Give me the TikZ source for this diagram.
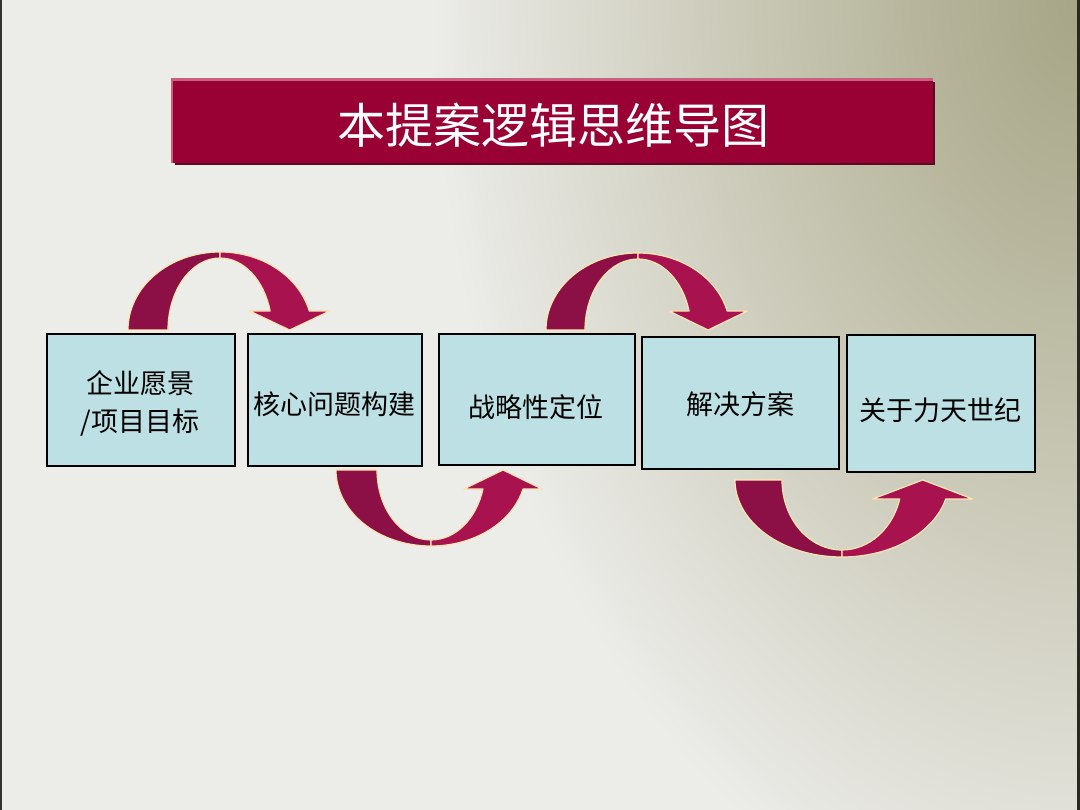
\documentclass[tikz,border=0pt]{standalone}
\usepackage{fontspec}
\newfontfamily\cjk{Noto Sans CJK SC}
\usetikzlibrary{calc}
\definecolor{bgc}{HTML}{ECECE9}
\definecolor{olivea}{HTML}{A6A586}
\definecolor{oliveb}{HTML}{BEBDA6}
\definecolor{titlered}{HTML}{990033}
\definecolor{titlelight}{HTML}{C8607F}
\definecolor{titledark}{HTML}{5C0A25}
\definecolor{boxfill}{HTML}{BCE0E3}
\definecolor{arrdark}{HTML}{8C0F45}
\definecolor{arrlight}{HTML}{A8124F}
\definecolor{arredge}{HTML}{FFE6B0}
\pgfdeclareradialshading{bgshade}{\pgfpoint{0bp}{0bp}}{color(0bp)=(olivea); color(9bp)=(oliveb); color(25bp)=(bgc); color(50bp)=(bgc)}
\tikzset{
  arrpiece/.style={draw=arredge, line width=1.2pt, line join=round},
  boxnode/.style={draw=black, line width=1.8pt, fill=boxfill, inner sep=0pt,
    anchor=north west},
  boxtext/.style={align=center, text=black, inner sep=0pt,
    font=\cjk\fontsize{27pt}{38pt}\selectfont},
  titlebar/.style={fill=titlered, inner sep=0pt},
  titletext/.style={inner sep=0pt, text=white,
    font=\cjk\fontsize{48pt}{52pt}\selectfont}
}
% curved arrow: outer rx, outer ry, inner rx, inner ry, head base offset, head half width
\newcommand\mycurvearrow[6]{%
  \pgfmathsetmacro\cAo{asin(#5/#2)}%
  \pgfmathsetmacro\cAi{asin(#5/#4)}%
  \pgfmathsetmacro\cXo{#1*cos(\cAo)}%
  \pgfmathsetmacro\cXi{#3*cos(\cAi)}%
  \pgfmathsetmacro\cHc{(\cXo+\cXi)/2}%
  \path[arrpiece, fill=arrdark] (-#1,0)
    arc[start angle=180, end angle=270, x radius=#1, y radius=#2]
    -- (0,-#4)
    arc[start angle=270, end angle=180, x radius=#3, y radius=#4] -- cycle;
  \path[arrpiece, fill=arrlight] (0,-#2)
    arc[start angle=270, end angle={360-\cAo}, x radius=#1, y radius=#2]
    -- (\cHc+#6,-#5) -- (\cHc,0) -- (\cHc-#6,-#5) -- (\cXi,-#5)
    arc[start angle={360-\cAi}, end angle=270, x radius=#3, y radius=#4] -- cycle;
}
\begin{document}
\begin{tikzpicture}[x=1pt,y=-1pt]
\useasboundingbox (0,0) rectangle (1080,810);
% background
\fill[bgc] (0,0) rectangle (1080,810);
\begin{scope}
  \clip (0,0) rectangle (1080,810);
  \shade[shading=bgshade] (1080,0) ellipse (650 and 960);
\end{scope}
\fill[black!80] (0,0) rectangle (2,810);
\fill[white!85!gray] (5,0) rectangle (8,810);
\fill[black!75!olivea] (1077,0) rectangle (1080,810);

% title bar
\fill[titlelight] (171,78) rectangle (933,163);
\fill[titledark] (175,82) rectangle (935,165);
\node[titlebar, minimum width=760pt, minimum height=82pt] (bar) at (553,122) {};
\node[titletext] (title) at (553,125) {本提案逻辑思维导图};

% curved arrows
\begin{scope}[shift={(220,330)}]
  \mycurvearrow{92}{78}{52}{72}{19}{40}
\end{scope}
\begin{scope}[shift={(431,470)}, yscale=-1]
  \mycurvearrow{95}{76}{54}{70}{19}{39}
\end{scope}
\begin{scope}[shift={(638,330)}]
  \mycurvearrow{92}{77}{53}{71}{19}{39}
\end{scope}
\begin{scope}[shift={(842,480)}, yscale=-1]
  \mycurvearrow{107}{77}{60}{70}{19}{50}
\end{scope}

% boxes
\node[boxnode, minimum width=188pt, minimum height=132pt] (b1) at (46,333) {};
\node[boxnode, minimum width=174pt, minimum height=132pt] (b2) at (247,333) {};
\node[boxnode, minimum width=196pt, minimum height=131pt] (b3) at (438,333) {};
\node[boxnode, minimum width=197pt, minimum height=132pt] (b4) at (641,336) {};
\node[boxnode, minimum width=188pt, minimum height=137pt] (b5) at (846,334) {};
\node[boxtext] (t1) at (140,403) {企业愿景\\/项目目标};
\node[boxtext] (t2) at (334,404) {核心问题构建};
\node[boxtext] (t3) at (536,407) {战略性定位};
\node[boxtext] (t4) at (740,404) {解决方案};
\node[boxtext] (t5) at (940,410) {关于力天世纪};
\end{tikzpicture}
\end{document}
